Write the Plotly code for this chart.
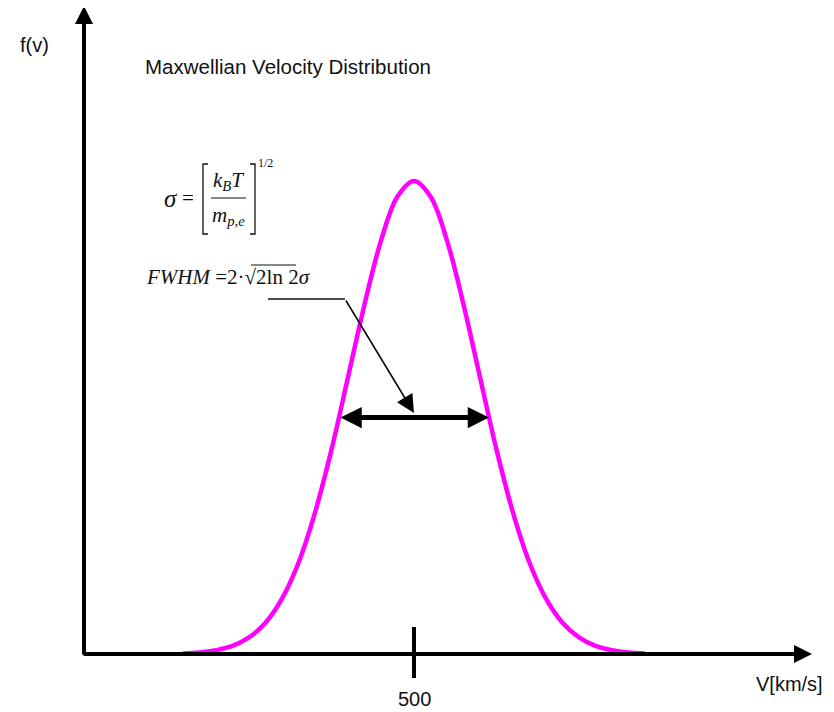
import math
import plotly.graph_objects as go

# ---------------- data ----------------
speed_kms = [150, 175, 200, 225, 250, 275, 300, 325, 350, 375, 400, 425, 450, 475,
             500, 525, 550, 575, 600, 625, 650, 675, 700, 725, 750, 775, 800, 825, 850]
f_v = [0.001, 0.003, 0.008, 0.017, 0.035, 0.066, 0.117, 0.193, 0.299, 0.432, 0.585,
       0.739, 0.874, 0.967, 1.000, 0.967, 0.874, 0.739, 0.585, 0.432, 0.299, 0.193,
       0.117, 0.066, 0.035, 0.017, 0.008, 0.003, 0.001]
center_speed = 500
sigma_kms = 96.5
tick_values = [500]
tick_labels = ["500"]
x_axis_title = "V[km/s]"
y_axis_title = "f(v)"
chart_title = "Maxwellian Velocity Distribution"

# page has an 8px body margin: build the figure 8px smaller and shift coordinates
OFF = 8
W, H = 834 - OFF, 712 - OFF
X0_PX, PX_PER_KMS = 84 - OFF, 0.66      # figure pixel of v=0, pixels per km/s
Y0_PX, PX_PER_F = 654 - OFF, 473        # figure pixel of f=0, pixels per unit f


def px(x):
    """screen pixel x -> paper"""
    return (x - OFF) / W


def py(y):
    """screen pixel y -> paper"""
    return 1 - (y - OFF) / H


fwhm = 2 * math.sqrt(2 * math.log(2)) * sigma_kms
half_max = max(f_v) / 2

SANS = "Arial, Liberation Sans, sans-serif"
SERIF = "Times New Roman, Liberation Serif, serif"
INK = "#111111"

fig = go.Figure()
fig.add_trace(go.Scatter(
    x=speed_kms, y=f_v, mode="lines",
    line=dict(color="#FF00FF", width=4.5, shape="spline", smoothing=1.0),
    hoverinfo="skip", showlegend=False,
))

ann = []
# x axis arrow
ann.append(dict(x=(812 - 84) / PX_PER_KMS, y=0, ax=-3, ay=0, xref="x", yref="y",
                axref="x", ayref="y", text="", showarrow=True, arrowhead=2,
                arrowsize=0.9, arrowwidth=4, arrowcolor="black"))
# y axis arrow
ann.append(dict(x=0, y=(654 - 6) / PX_PER_F, ax=0, ay=-0.004, xref="x", yref="y",
                axref="x", ayref="y", text="", showarrow=True, arrowhead=2,
                arrowsize=0.9, arrowwidth=4, arrowcolor="black"))
# FWHM double arrow
ann.append(dict(x=center_speed + fwhm / 2, y=half_max, ax=center_speed - fwhm / 2,
                ay=half_max, xref="x", yref="y", axref="x", ayref="y", text="",
                showarrow=True, arrowhead=2, startarrowhead=2, arrowside="end+start",
                arrowsize=0.85, startarrowsize=0.85, arrowwidth=5, arrowcolor="black"))
# pointer arrow
ann.append(dict(x=px(414), y=py(413), xref="paper", yref="paper", ax=-69, ay=-114,
                text="", showarrow=True, arrowhead=2, arrowsize=2.4, arrowwidth=1.5,
                arrowcolor="black"))


def label(x, y, text, font, xanchor="center", yanchor="middle", xref="paper"):
    ann.append(dict(x=x, y=py(y), xref=xref, yref="paper", text=text,
                    xanchor=xanchor, yanchor=yanchor, showarrow=False, font=font))


sans20 = dict(family=SANS, size=20, color=INK)
label(px(34), 45, y_axis_title, sans20)
label(px(143), 67, chart_title, dict(family=SANS, size=20.5, color=INK), xanchor="left")
label(px(789), 684, x_axis_title, sans20)
for v, lab in zip(tick_values, tick_labels):
    label(v, 699, lab, sans20, xref="x")

# formula: sigma = [k_B T / m_p,e]^(1/2)
serif = dict(family=SERIF, size=21, color=INK)
label(px(171), 199, "<i>σ</i>", dict(family=SERIF, size=25, color=INK))
label(px(188), 198, "=", serif)
label(px(228), 196, "<i>k</i><sub><i>B</i></sub><i>T</i>", serif, yanchor="bottom")
label(px(228), 201, "<i>m</i><sub><i>p,e</i></sub>", serif, yanchor="top")
label(px(265), 163, "1/2", dict(family=SERIF, size=12, color=INK))
# FWHM formula
label(px(144), 277, "<i>FWHM</i> =2·√2ln 2<i>σ</i>", serif, xanchor="left")

shapes = []
lw = dict(color=INK, width=1.3)
# brackets
shapes.append(dict(type="path", xref="paper", yref="paper",
                   path=f"M {px(208)},{py(164)} L {px(203)},{py(164)} L {px(203)},{py(234)} L {px(208)},{py(234)}",
                   line=lw))
shapes.append(dict(type="path", xref="paper", yref="paper",
                   path=f"M {px(250)},{py(164)} L {px(255)},{py(164)} L {px(255)},{py(234)} L {px(250)},{py(234)}",
                   line=lw))
# fraction bar
shapes.append(dict(type="line", xref="paper", yref="paper", x0=px(211), x1=px(246),
                   y0=py(198), y1=py(198), line=dict(color=INK, width=1.2)))
# radical overline
shapes.append(dict(type="line", xref="paper", yref="paper", x0=px(251), x1=px(296),
                   y0=py(265), y1=py(265), line=dict(color=INK, width=1.1)))
# pointer horizontal segment
shapes.append(dict(type="line", xref="paper", yref="paper", x0=px(268), x1=px(345),
                   y0=py(299), y1=py(299), line=dict(color=INK, width=1.5)))
# tick at 500
for v in tick_values:
    shapes.append(dict(type="line", xref="x", yref="y", x0=v, x1=v,
                       y0=-(678 - 654) / PX_PER_F, y1=(654 - 627) / PX_PER_F,
                       line=dict(color="black", width=4)))

fig.update_layout(
    width=W, height=H, autosize=False,
    margin=dict(l=0, r=0, t=0, b=0),
    paper_bgcolor="white", plot_bgcolor="white",
    xaxis=dict(visible=False, range=[-X0_PX / PX_PER_KMS, (W - X0_PX) / PX_PER_KMS]),
    yaxis=dict(visible=False, range=[-(H - Y0_PX) / PX_PER_F, Y0_PX / PX_PER_F]),
    annotations=ann, shapes=shapes, showlegend=False,
)

fig.write_html("out.html")
